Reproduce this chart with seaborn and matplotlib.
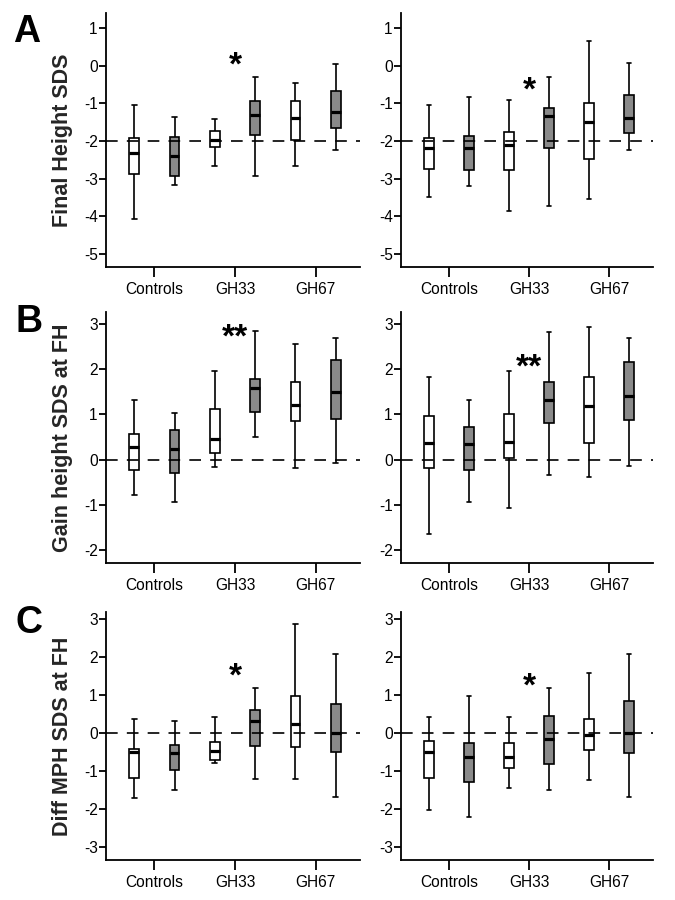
import numpy as np
import pandas as pd
import matplotlib
matplotlib.use("Agg")
import matplotlib.pyplot as plt
import seaborn as sns

sns.set_style("ticks")
plt.rcParams['font.family'] = ['Liberation Sans', 'DejaVu Sans']

groups = ["Controls", "GH33", "GH67"]
subsets = ["white", "gray"]

# box order: Controls-white, Controls-gray, GH33-white, GH33-gray, GH67-white, GH67-gray
# ---- Row A: Final Height SDS ----
a_left_low = [-4.08, -3.18, -2.67, -2.94, -2.67, -2.24]
a_left_q1 = [-2.89, -2.94, -2.17, -1.85, -1.97, -1.66]
a_left_med = [-2.33, -2.40, -1.97, -1.31, -1.39, -1.22]
a_left_q3 = [-1.92, -1.89, -1.73, -0.95, -0.95, -0.67]
a_left_high = [-1.04, -1.36, -1.42, -0.31, -0.47, 0.05]

a_right_low = [-3.50, -3.19, -3.87, -3.72, -3.54, -2.24]
a_right_q1 = [-2.74, -2.77, -2.77, -2.20, -2.49, -1.80]
a_right_med = [-2.19, -2.18, -2.10, -1.33, -1.49, -1.38]
a_right_q3 = [-1.92, -1.87, -1.75, -1.13, -0.98, -0.79]
a_right_high = [-1.04, -0.82, -0.90, -0.31, 0.66, 0.07]

# ---- Row B: Gain height SDS at FH ----
b_left_low = [-0.78, -0.94, -0.16, 0.51, -0.19, -0.08]
b_left_q1 = [-0.23, -0.29, 0.15, 1.05, 0.85, 0.89]
b_left_med = [0.29, 0.23, 0.46, 1.58, 1.20, 1.49]
b_left_q3 = [0.57, 0.65, 1.12, 1.79, 1.72, 2.21]
b_left_high = [1.31, 1.04, 1.97, 2.84, 2.57, 2.70]

b_right_low = [-1.65, -0.94, -1.07, -0.33, -0.38, -0.15]
b_right_q1 = [-0.18, -0.24, 0.04, 0.82, 0.37, 0.88]
b_right_med = [0.37, 0.35, 0.39, 1.32, 1.18, 1.40]
b_right_q3 = [0.96, 0.73, 1.02, 1.71, 1.84, 2.17]
b_right_high = [1.82, 1.32, 1.97, 2.83, 2.94, 2.70]

# ---- Row C: Diff MPH SDS at FH ----
c_left_low = [-1.69, -1.49, -0.78, -1.19, -1.21, -1.68]
c_left_q1 = [-1.18, -0.97, -0.70, -0.32, -0.35, -0.50]
c_left_med = [-0.50, -0.51, -0.46, 0.32, 0.25, 0.02]
c_left_q3 = [-0.40, -0.31, -0.24, 0.62, 0.99, 0.78]
c_left_high = [0.39, 0.32, 0.42, 1.19, 2.88, 2.09]

c_right_low = [-2.02, -2.21, -1.44, -1.49, -1.23, -1.68]
c_right_q1 = [-1.18, -1.27, -0.90, -0.80, -0.44, -0.51]
c_right_med = [-0.50, -0.61, -0.61, -0.15, -0.04, 0.00]
c_right_q3 = [-0.21, -0.26, -0.25, 0.45, 0.39, 0.86]
c_right_high = [0.42, 0.98, 0.42, 1.19, 1.58, 2.09]

row_labels = ["Final Height SDS", "Gain height SDS at FH", "Diff MPH SDS at FH"]
panel_letters = ["A", "B", "C"]
ref_lines = [-2, 0, 0]
y_ticks = [list(range(-5, 2)), list(range(-2, 4)), list(range(-3, 4))]
y_lims = [(-5.35, 1.4), (-2.29, 3.27), (-3.33, 3.19)]
star_text = [["*", "*"], ["**", "**"], ["*", "*"]]
star_y = [[0.12, -0.54], [2.81, 2.15], [1.62, 1.36]]

panels = [
    [(a_left_low, a_left_q1, a_left_med, a_left_q3, a_left_high),
     (a_right_low, a_right_q1, a_right_med, a_right_q3, a_right_high)],
    [(b_left_low, b_left_q1, b_left_med, b_left_q3, b_left_high),
     (b_right_low, b_right_q1, b_right_med, b_right_q3, b_right_high)],
    [(c_left_low, c_left_q1, c_left_med, c_left_q3, c_left_high),
     (c_right_low, c_right_q1, c_right_med, c_right_q3, c_right_high)],
]


def make_df(stats):
    rows = []
    for i in range(6):
        g = groups[i // 2]
        s = subsets[i % 2]
        for arr in stats:
            rows.append({"group": g, "subset": s, "value": arr[i]})
    return pd.DataFrame(rows)


fig = plt.figure(figsize=(6.75, 9), dpi=100)

col_x = [(106, 360), (401, 653)]
row_y = [(13, 267), (312, 563), (612, 860)]
W, H = 675, 900

for r in range(3):
    for c in range(2):
        x0, x1 = col_x[c]
        yt, yb = row_y[r]
        ax = fig.add_axes([x0 / W, 1 - yb / H, (x1 - x0) / W, (yb - yt) / H])
        df = make_df(panels[r][c])
        sns.boxplot(data=df, x="group", y="value", hue="subset",
                    order=groups, hue_order=subsets,
                    palette={"white": "white", "gray": "#8a8a8a"},
                    saturation=1, whis=(0, 100), width=1.0, gap=0.76,
                    dodge=True, linecolor="black", linewidth=1.2,
                    showfliers=False, legend=False, ax=ax,
                    medianprops=dict(linewidth=2.3, color="black"))
        ax.axhline(ref_lines[r], color="black", lw=1.2, dashes=(7, 5.5), zorder=10)
        ax.set_xlim(-0.6, 2.55)
        ax.set_ylim(*y_lims[r])
        ax.set_yticks(y_ticks[r])
        ax.set_yticklabels([str(t) for t in y_ticks[r]])
        ax.set_xlabel("")
        ax.set_ylabel("")
        for sp in ["top", "right"]:
            ax.spines[sp].set_visible(False)
        for sp in ["left", "bottom"]:
            ax.spines[sp].set_linewidth(1.3)
            ax.spines[sp].set_color("black")
        ax.tick_params(axis="y", length=5, width=1.3, labelsize=11.2, pad=1, colors="black")
        ax.tick_params(axis="x", length=7, width=1.3, labelsize=11.2, pad=4, colors="black")
        ax.annotate(star_text[r][c], xy=(1, star_y[r][c]), xytext=(0, -3.8),
                    textcoords="offset points", ha="center", va="center",
                    fontsize=24, fontweight="bold", color="black")
        if c == 0:
            ax.set_ylabel(row_labels[r], fontsize=15.5, fontweight="bold")
            ax.yaxis.set_label_coords(-0.128, 0.5)

letter_pos = [(27, 32), (29, 322), (29, 623)]
for L, (lx, ly) in zip(panel_letters, letter_pos):
    fig.text(lx / W, 1 - ly / H, L, ha="center", va="center",
             fontsize=27, fontweight="bold", color="black")

fig.savefig("out.png", dpi=100)
